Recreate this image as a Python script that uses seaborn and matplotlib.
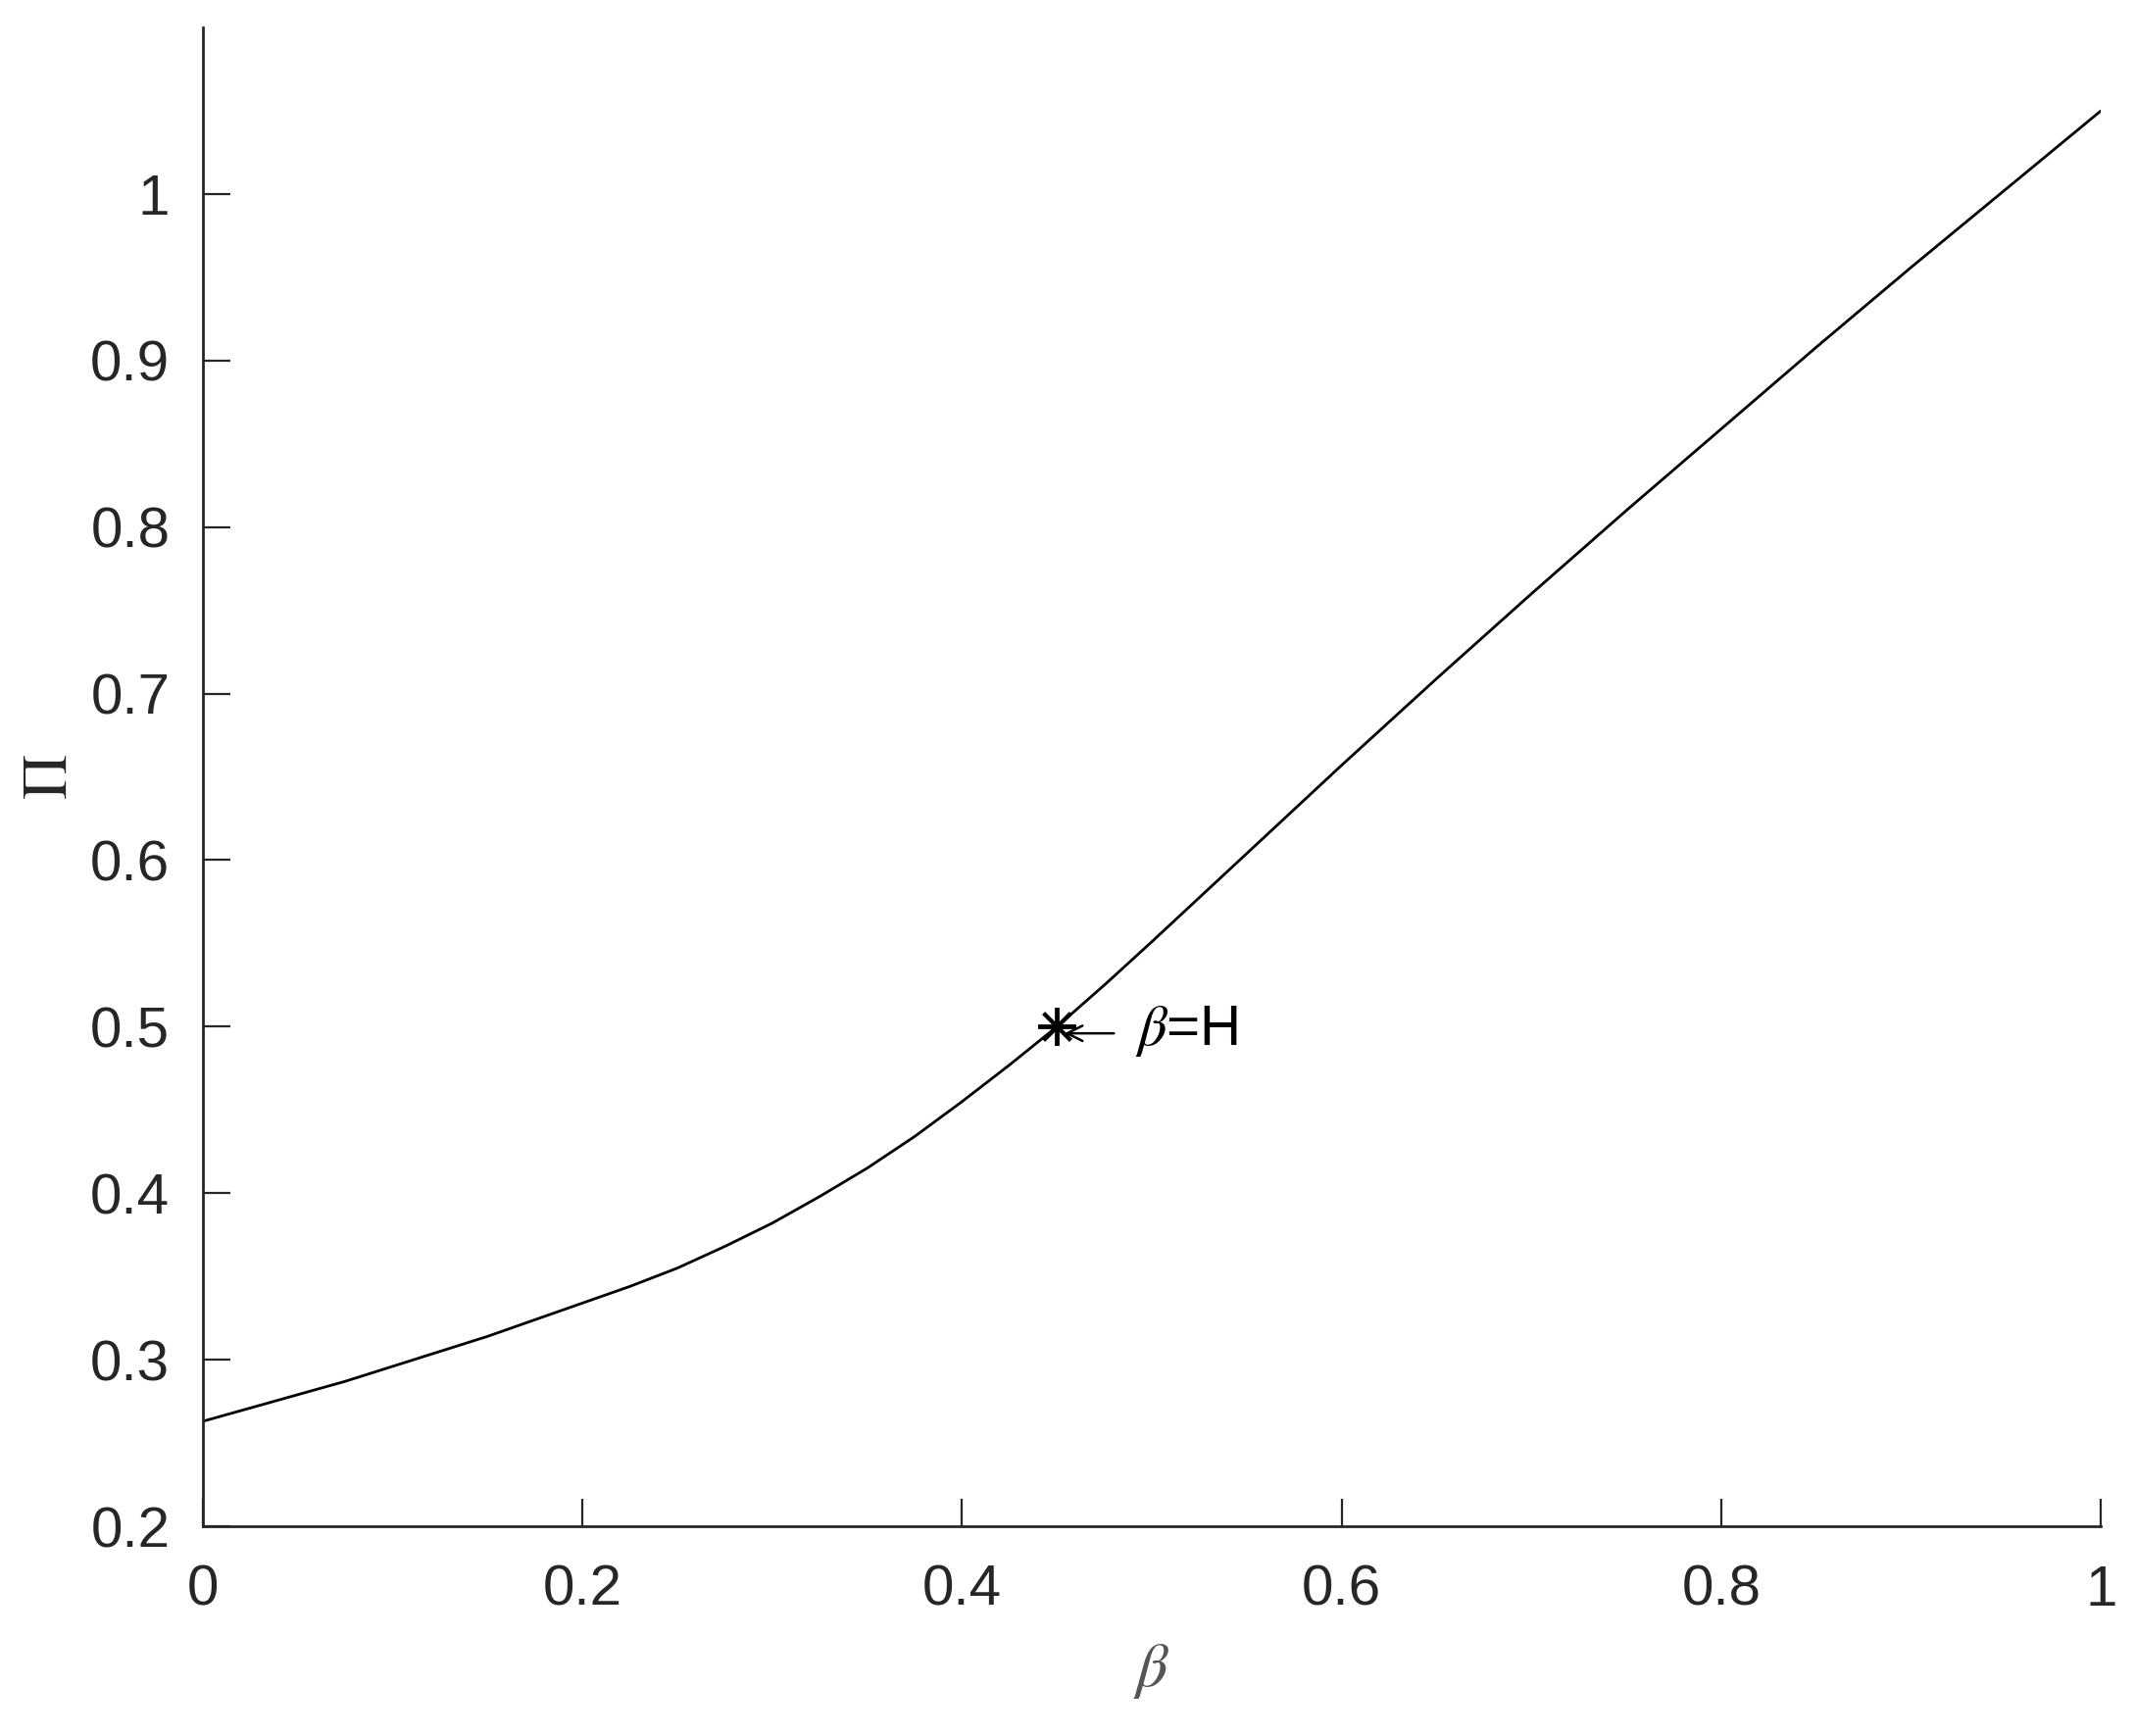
import matplotlib
matplotlib.use("Agg")
import matplotlib.pyplot as plt
import seaborn as sns
import pandas as pd

beta_values = [0.000, 0.025, 0.050, 0.075, 0.100, 0.125, 0.150, 0.175, 0.200, 0.225,
               0.250, 0.275, 0.300, 0.325, 0.350, 0.375, 0.400, 0.425, 0.450, 0.475,
               0.500, 0.550, 0.600, 0.650, 0.700, 0.750, 0.800, 0.850, 0.900, 0.950, 1.000]
pi_values = [0.263, 0.271, 0.279, 0.287, 0.296, 0.305, 0.314, 0.324, 0.334, 0.344,
             0.355, 0.368, 0.382, 0.398, 0.415, 0.434, 0.455, 0.477, 0.500, 0.525,
             0.551, 0.604, 0.657, 0.709, 0.760, 0.810, 0.859, 0.908, 0.956, 1.003, 1.050]
mark_beta = [0.45]
mark_pi = [0.50]
x_ticks = [0, 0.2, 0.4, 0.6, 0.8, 1]
x_tick_labels = ["0", "0.2", "0.4", "0.6", "0.8", "1"]
y_ticks = [0.2, 0.3, 0.4, 0.5, 0.6, 0.7, 0.8, 0.9, 1.0]
y_tick_labels = ["0.2", "0.3", "0.4", "0.5", "0.6", "0.7", "0.8", "0.9", "1"]

sns.set_style("ticks")
plt.rcParams["font.family"] = ["Liberation Sans", "DejaVu Sans"]
plt.rcParams["mathtext.fontset"] = "stix"

df = pd.DataFrame({"beta": beta_values, "Pi": pi_values})

fig = plt.figure(figsize=(21.78, 17.71), dpi=100)
ax = fig.add_axes([0.0949, 0.1208, 0.9891 - 0.0949 - 0.005, 0.9842 - 0.1208])

sns.lineplot(data=df, x="beta", y="Pi", ax=ax, color="black", linewidth=2.0)
ax.plot(mark_beta, mark_pi, linestyle="none", marker=(8, 2, 0), markersize=28,
        markeredgewidth=2.8, color="black")

ax.annotate("", xy=(mark_beta[0] + 0.004, mark_pi[0] - 0.004),
            xytext=(mark_beta[0] + 0.030, mark_pi[0] - 0.004),
            arrowprops=dict(arrowstyle="->", color="black", lw=1.8,
                            mutation_scale=28, shrinkA=0, shrinkB=0))
ax.text(mark_beta[0] + 0.041, mark_pi[0] - 0.003, r"$\beta$=H", fontsize=42,
        ha="left", va="center", color="black")

ax.set_xlim(0, 1)
ax.set_ylim(0.2, 1.1)
ax.set_xticks(x_ticks)
ax.set_xticklabels(x_tick_labels)
ax.set_yticks(y_ticks)
ax.set_yticklabels(y_tick_labels)

for side in ["top", "right"]:
    ax.spines[side].set_visible(False)
for side in ["left", "bottom"]:
    ax.spines[side].set_linewidth(2.0)
    ax.spines[side].set_color("#262626")

ax.tick_params(axis="both", direction="in", length=20, width=1.6,
               colors="#262626", labelsize=42, labelcolor="#262626")
ax.tick_params(axis="x", pad=28)
ax.tick_params(axis="y", pad=24)

ax.set_xlabel(r"$\beta$", fontsize=46, color="#555555", labelpad=18)
ax.set_ylabel(r"$\Pi$", fontsize=46, color="#262626")
ax.yaxis.set_label_coords(-0.065, 0.5)

fig.savefig("out.png", dpi=100, facecolor="white")
